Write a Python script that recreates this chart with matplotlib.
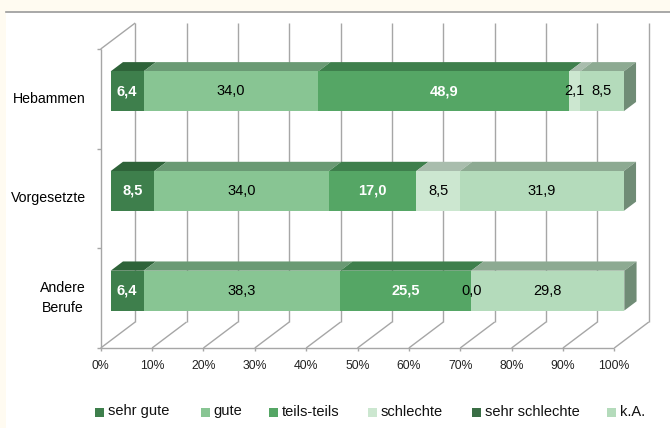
import matplotlib
matplotlib.use("Agg")
import matplotlib.pyplot as plt
from matplotlib import font_manager
from matplotlib.patches import Polygon, Rectangle
from matplotlib.lines import Line2D

# survey answers per group, in percent
groups = ["Andere\nBerufe", "Vorgesetzte", "Hebammen"]
answers = ["sehr gute", "gute", "teils-teils", "schlechte", "sehr schlechte", "k.A."]
sehr_gute = [6.4, 8.5, 6.4]
gute = [38.3, 34.0, 34.0]
teils_teils = [25.5, 17.0, 48.9]
schlechte = [0.0, 8.5, 2.1]
sehr_schlechte = [0.0, 0.0, 0.0]
k_a = [29.8, 31.9, 8.5]
series = [sehr_gute, gute, teils_teils, schlechte, sehr_schlechte, k_a]
x_ticks = list(range(0, 101, 10))

# front / top / side shades for each answer
front = ["#3e7f4c", "#88c593", "#55a665", "#cce7d0", "#3a6e45", "#b4dbbb"]
top = ["#2e6339", "#6a9a74", "#3e7f4c", "#a9bdad", "#2c5535", "#8daa92"]
side = ["#2a5533", "#5f8a68", "#386f44", "#93a897", "#264a2e", "#708c76"]
label_white = [True, False, True, False, True, False]

def pick_font(names):
    for n in names:
        try:
            font_manager.findfont(n, fallback_to_default=False)
            return n
        except Exception:
            pass
    return "DejaVu Sans"

FONT = pick_font(["Liberation Sans", "Arial", "DejaVu Sans"])
NARROW = pick_font(["Liberation Sans Narrow", "Arial Narrow", FONT])
plt.rcParams["font.family"] = [FONT, "DejaVu Sans"]
narrow = NARROW != FONT
lab_size = 11.5 if narrow else 10.5

W, H = 670, 428
fig = plt.figure(figsize=(W / 100, H / 100), dpi=100, facecolor="#fffbf1")

# white panel with grey rule on top
fig.patches.append(Rectangle((6 / W, 0), 1 - 6 / W, (H - 12) / H, transform=fig.transFigure,
                             facecolor="white", edgecolor="none", zorder=-5))
fig.lines.append(Line2D([6 / W, 1], [(H - 11.5) / H] * 2, transform=fig.transFigure,
                        color="#9a9a9a", lw=1.2, zorder=-4))

ax = fig.add_axes([100.7 / W, 80 / H, 513.6 / W, 299 / H])
ax.set_xlim(0, 100)
ax.set_ylim(0, 3)
ax.axis("off")
ax.patch.set_alpha(0)

# depth of the 3d box in data units
DX, DY = 6.72, 0.261
D0, D1 = 0.29, 0.645     # bar front/back as fraction of depth
BAR_H = 0.40
GRID = "#a6a6a6"

def line(xs, ys, **kw):
    ax.plot(xs, ys, color=GRID, lw=1.0, clip_on=False, solid_capstyle="butt", **kw)

# back wall and floor
for t in x_ticks:
    line([t + DX, t + DX], [DY, 3 + DY], zorder=1)
    line([t, t + DX], [0, DY], zorder=1)
    line([t, t], [0, -0.03], zorder=1)
line([0, 100], [0, 0], zorder=1)
# left wall
line([0, 0], [0, 3], zorder=1)
line([0, DX], [3, 3 + DY], zorder=1)
for k in range(4):
    line([-0.75, 0], [k, k], zorder=1)

ox0, oy0 = D0 * DX, D0 * DY
ddx, ddy = (D1 - D0) * DX, (D1 - D0) * DY

for i, g in enumerate(groups):
    yb = i + 0.5 - BAR_H / 2 + oy0
    yt = yb + BAR_H
    left = 0.0
    last = None
    for j, vals in enumerate(series):
        v = vals[i]
        if v <= 0:
            if j == 3:
                # zero value still carries a label
                ax.text(left + ox0, (yb + yt) / 2, f"{v:.1f}".replace(".", ","),
                        ha="center", va="center", fontsize=lab_size, family=NARROW,
                        color="black", zorder=6)
            continue
        x0, x1 = left + ox0, left + v + ox0
        ax.add_patch(Polygon([(x0, yt), (x1, yt), (x1 + ddx, yt + ddy), (x0 + ddx, yt + ddy)],
                             closed=True, facecolor=top[j], edgecolor="none", zorder=3, clip_on=False))
        ax.add_patch(Rectangle((x0, yb), v, BAR_H, facecolor=front[j], edgecolor="none",
                               zorder=4, clip_on=False))
        if j != 4:
            ax.text((x0 + x1) / 2, (yb + yt) / 2, f"{v:.1f}".replace(".", ","),
                    ha="center", va="center", fontsize=lab_size, family=NARROW,
                    color="white" if label_white[j] else "black",
                    fontweight="bold" if label_white[j] else "normal", zorder=6)
        last = j
        left += v
    x1 = left + ox0
    ax.add_patch(Polygon([(x1, yb), (x1, yt), (x1 + ddx, yt + ddy), (x1 + ddx, yb + ddy)],
                         closed=True, facecolor=side[last], edgecolor="none", zorder=3, clip_on=False))
    ax.text(-2.9, i + 0.5, g, ha="right", va="center", fontsize=10.2,
            multialignment="center", linespacing=1.55)

for t in x_ticks:
    ax.text(t, -0.125, f"{t}%", ha="center", va="top", fontsize=8.8, color="#222222")

# legend row
leg_x = [94.5, 200.7, 268.6, 367.9, 472.0, 607.0]
for j, name in enumerate(answers):
    xs = leg_x[j] / W
    fig.patches.append(Rectangle((xs, (H - 416.5) / H), 9 / W, 9 / H, transform=fig.transFigure,
                                 facecolor=front[j], edgecolor="none"))
    fig.text(xs + 13 / W, (H - 411.5) / H, name, ha="left", va="center",
             fontsize=lab_size, family=NARROW, color="#111111")

fig.savefig("out.png", dpi=100, facecolor=fig.get_facecolor())
